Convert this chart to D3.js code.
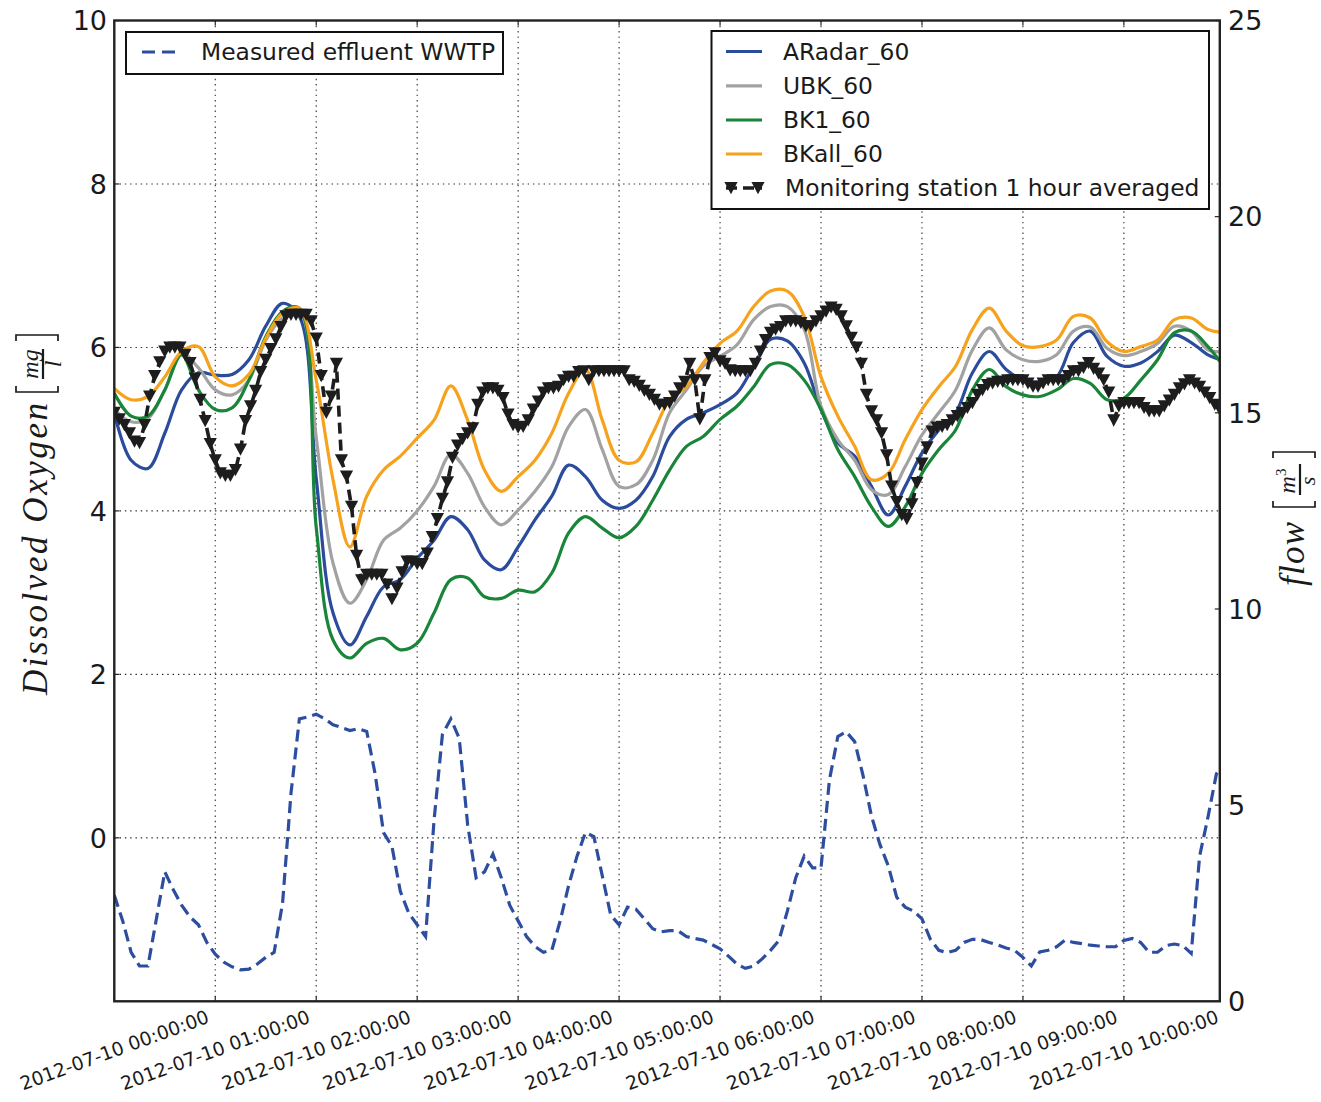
<!DOCTYPE html>
<html>
<head>
<meta charset="utf-8">
<script src="https://cdn.jsdelivr.net/npm/d3@7"></script>
<style>
  body { margin: 0; background: #fff; }
  svg { display: block; }
</style>
</head>
<body>
<svg id="chart" width="1321" height="1102"></svg>
<script>
// Dissolved oxygen (mg/l), modelled series every 10 minutes from 2012-07-10 00:00
const aradar = [
  5.2, 4.62, 4.52, 4.95, 5.48, 5.69,
  5.66, 5.67, 5.85, 6.26, 6.54, 6.38,
  4.4, 2.75, 2.36, 2.71, 3.07, 3.16,
  3.42, 3.64, 3.93, 3.77, 3.4, 3.28,
  3.56, 3.89, 4.18, 4.56, 4.42, 4.13,
  4.03, 4.13, 4.42, 4.91, 5.12, 5.2,
  5.3, 5.44, 5.77, 6.1, 6.08, 5.81,
  5.24, 4.83, 4.67, 4.3, 3.95, 4.3,
  4.71, 4.99, 5.2, 5.69, 5.95, 5.73,
  5.6, 5.58, 5.64, 6.06, 6.2, 5.89,
  5.77, 5.81, 5.95, 6.15, 6.06, 5.91,
  5.83
];
const ubk = [
  5.24, 5.09, 5.13, 5.48, 5.93, 5.75,
  5.48, 5.42, 5.6, 6.09, 6.36, 6.44,
  4.9, 3.36, 2.87, 3.16, 3.64, 3.79,
  4.0, 4.3, 4.69, 4.46, 4.05, 3.83,
  4.01, 4.24, 4.54, 5.03, 5.24, 4.75,
  4.3, 4.32, 4.62, 5.2, 5.48, 5.77,
  5.89, 6.03, 6.34, 6.5, 6.5, 6.22,
  5.28, 4.87, 4.62, 4.26, 4.2, 4.54,
  4.93, 5.2, 5.48, 5.97, 6.24, 5.97,
  5.85, 5.83, 5.91, 6.2, 6.25, 5.99,
  5.9, 5.95, 6.05, 6.26, 6.2, 5.97,
  5.95
];
const bk1 = [
  5.44, 5.16, 5.16, 5.48, 5.91, 5.48,
  5.24, 5.26, 5.6, 6.13, 6.44, 6.48,
  3.8, 2.42, 2.2, 2.38, 2.44, 2.3,
  2.38, 2.75, 3.16, 3.18, 2.95, 2.93,
  3.03, 3.01, 3.24, 3.73, 3.93, 3.79,
  3.67, 3.81, 4.13, 4.5, 4.79, 4.91,
  5.12, 5.28, 5.52, 5.79, 5.79, 5.6,
  5.24, 4.75, 4.42, 4.05, 3.81, 4.05,
  4.46, 4.75, 4.99, 5.48, 5.73, 5.52,
  5.42, 5.4, 5.48, 5.62, 5.56, 5.36,
  5.38, 5.6, 5.85, 6.18, 6.2, 6.01,
  5.75
];
const bkall = [
  5.5, 5.36, 5.4, 5.64, 5.95, 6.01,
  5.64, 5.53, 5.67, 6.11, 6.42, 6.48,
  5.6, 4.38, 3.56, 4.18, 4.5, 4.67,
  4.89, 5.11, 5.53, 5.11, 4.5, 4.24,
  4.42, 4.62, 4.95, 5.44, 5.73, 5.11,
  4.62, 4.6, 4.95, 5.36, 5.52, 5.81,
  6.05, 6.2, 6.5, 6.69, 6.69, 6.38,
  5.64, 5.16, 4.79, 4.38, 4.46, 4.87,
  5.24, 5.52, 5.77, 6.22, 6.48, 6.2,
  6.02, 6.01, 6.09, 6.38, 6.36, 6.07,
  5.95, 6.01, 6.09, 6.34, 6.36, 6.22,
  6.18
];

// Monitoring station, 1 hour moving average (mg/l), every 3 minutes
const monitoring = [
  5.2, 5.12, 5.05, 4.95, 4.85, 4.83, 5.05, 5.4, 5.65, 5.82, 5.95, 6.0, 6.0, 6.0, 5.91, 5.81, 5.62, 5.36, 5.1, 4.82,
  4.62, 4.46, 4.43, 4.43, 4.5, 4.75, 5.1, 5.28, 5.47, 5.7, 5.85, 5.98, 6.1, 6.25, 6.38, 6.4, 6.4, 6.4, 6.4, 6.32,
  6.11, 5.65, 5.2, 5.4, 5.8, 4.62, 4.42, 4.05, 3.45, 3.15, 3.22, 3.22, 3.22, 3.22, 3.1, 2.92, 3.05, 3.25, 3.38, 3.38,
  3.35, 3.35, 3.48, 3.68, 3.9, 4.15, 4.35, 4.65, 4.8, 4.88, 4.95, 5.01, 5.3, 5.45, 5.5, 5.5, 5.47, 5.38, 5.18, 5.05,
  5.02, 5.03, 5.11, 5.24, 5.34, 5.45, 5.5, 5.5, 5.52, 5.6, 5.64, 5.64, 5.7, 5.71, 5.6, 5.71, 5.71, 5.71, 5.71, 5.71,
  5.71, 5.71, 5.6, 5.58, 5.53, 5.47, 5.42, 5.36, 5.3, 5.3, 5.32, 5.4, 5.5, 5.58, 5.8, 5.6, 5.12, 5.6, 5.87, 5.93,
  5.83, 5.8, 5.72, 5.71, 5.71, 5.71, 5.71, 5.8, 5.95, 6.09, 6.18, 6.22, 6.25, 6.32, 6.32, 6.32, 6.3, 6.26, 6.26, 6.32,
  6.38, 6.44, 6.49, 6.46, 6.38, 6.26, 6.12, 6.0, 5.8, 5.42, 5.22, 5.11, 4.95, 4.68, 4.3, 4.11, 3.95, 3.9, 4.08, 4.34,
  4.58, 4.78, 4.97, 5.02, 5.03, 5.05, 5.11, 5.16, 5.2, 5.26, 5.32, 5.42, 5.48, 5.54, 5.56, 5.58, 5.58, 5.6, 5.6, 5.6,
  5.6, 5.56, 5.52, 5.52, 5.56, 5.6, 5.6, 5.6, 5.6, 5.65, 5.71, 5.71, 5.75, 5.81, 5.74, 5.68, 5.6, 5.45, 5.11, 5.28,
  5.32, 5.32, 5.32, 5.32, 5.26, 5.22, 5.22, 5.22, 5.28, 5.35, 5.42, 5.5, 5.55, 5.6, 5.56, 5.52, 5.45, 5.38, 5.3, 5.24
];

// Measured WWTP effluent flow (m3/s), every 5 minutes
const effluentFlow = [
  2.7, 2.05, 1.25, 0.9, 0.9, 2.1, 3.3, 2.85, 2.45, 2.15, 1.95, 1.5,
  1.2, 1.0, 0.88, 0.8, 0.82, 0.95, 1.12, 1.25, 2.5, 5.3, 7.2, 7.25,
  7.32, 7.2, 7.05, 6.98, 6.9, 6.95, 6.88, 5.8, 4.3, 3.95, 2.8, 2.25,
  1.95, 1.65, 4.6, 6.8, 7.2, 6.7, 4.5, 3.15, 3.3, 3.75, 3.15, 2.45,
  2.05, 1.65, 1.4, 1.25, 1.3, 2.05, 2.95, 3.7, 4.3, 4.2, 3.2, 2.2,
  1.95, 2.4, 2.35, 2.1, 1.85, 1.77, 1.8, 1.8, 1.65, 1.6, 1.56, 1.45,
  1.34, 1.15, 0.95, 0.84, 0.9, 1.08, 1.3, 1.55, 2.3, 3.15, 3.7, 3.4,
  3.4, 5.64, 6.75, 6.87, 6.62, 5.75, 4.72, 4.0, 3.45, 2.65, 2.4, 2.3,
  2.1, 1.58, 1.3, 1.24, 1.3, 1.5, 1.58, 1.57, 1.5, 1.44, 1.36, 1.3,
  1.12, 0.9, 1.26, 1.3, 1.39, 1.56, 1.5, 1.47, 1.43, 1.41, 1.39, 1.39,
  1.55, 1.6, 1.5, 1.25, 1.25, 1.42, 1.46, 1.42, 1.22, 3.7, 4.7, 5.8,
  6.1
];

const doTicks = [0, 2, 4, 6, 8, 10];
const flowTicks = [0, 5, 10, 15, 20, 25];

const seriesInfo = [
  { name: "ARadar_60", values: aradar, color: "#2b4c9c" },
  { name: "UBK_60",    values: ubk,    color: "#a2a2a2" },
  { name: "BK1_60",    values: bk1,    color: "#188538" },
  { name: "BKall_60",  values: bkall,  color: "#f6a21c" }
];

const flowColor = "#2d4e9f";
const stationColor = "#1d1d1d";
const inkColor = "#1a1a1a";
const sansFont = "'DejaVu Sans', sans-serif";
const serifFont = "'Liberation Serif', 'DejaVu Serif', serif";

const plot = { left: 114.3, right: 1219.8, top: 20.5, bottom: 1001.3 };
const t0 = new Date(2012, 6, 10, 0, 0, 0);
const tEnd = new Date(2012, 6, 10, 10, 57, 0);
const minute = 60000;
const timesEvery = (n, step) => d3.range(n).map(i => new Date(+t0 + i * step * minute));

const x = d3.scaleTime().domain([t0, tEnd]).range([plot.left, plot.right]);
const yDO = d3.scaleLinear().domain([-2, 10]).range([plot.bottom, plot.top]);
const yFlow = d3.scaleLinear().domain([0, 25]).range([plot.bottom, plot.top]);

const svg = d3.select("#chart");

svg.append("defs").append("clipPath").attr("id", "plot-clip")
  .append("rect")
  .attr("x", plot.left).attr("y", plot.top)
  .attr("width", plot.right - plot.left).attr("height", plot.bottom - plot.top);

// ---- grid ----
const hourTicks = d3.timeHour.range(t0, new Date(+tEnd + 1));
const grid = svg.append("g").attr("stroke", "#2a2a2a").attr("stroke-width", 1.1)
  .attr("stroke-dasharray", "1.4,3.9");
hourTicks.filter(d => x(d) > plot.left + 1).forEach(d => {
  grid.append("line").attr("x1", x(d)).attr("x2", x(d))
    .attr("y1", plot.top).attr("y2", plot.bottom);
});
doTicks.filter(v => v < 10).forEach(v => {
  grid.append("line").attr("x1", plot.left).attr("x2", plot.right)
    .attr("y1", yDO(v)).attr("y2", yDO(v));
});

// ---- data ----
const dataLayer = svg.append("g").attr("clip-path", "url(#plot-clip)");
const modelTimes = timesEvery(aradar.length, 10);

const modelLine = d3.line()
  .x((d, i) => x(modelTimes[i]))
  .y(d => yDO(d))
  .curve(d3.curveCatmullRom.alpha(0.5));

seriesInfo.forEach(s => {
  dataLayer.append("path")
    .attr("d", modelLine(s.values))
    .attr("fill", "none")
    .attr("stroke", s.color)
    .attr("stroke-width", 3.2)
    .attr("stroke-linejoin", "round");
});

const stationTimes = timesEvery(monitoring.length, 3);
const stationLine = d3.line()
  .x((d, i) => x(stationTimes[i]))
  .y(d => yDO(d));
dataLayer.append("path")
  .attr("d", stationLine(monitoring))
  .attr("fill", "none")
  .attr("stroke", stationColor)
  .attr("stroke-width", 3.6)
  .attr("stroke-dasharray", "11,6");

const triangleDown = "M-6.6,-6L6.6,-6L0,6.2Z";
dataLayer.append("g").selectAll("path")
  .data(monitoring)
  .join("path")
  .attr("d", triangleDown)
  .attr("transform", (d, i) => `translate(${x(stationTimes[i])},${yDO(d)})`)
  .attr("fill", stationColor);

const flowTimes = timesEvery(effluentFlow.length, 5);
const flowLine = d3.line()
  .x((d, i) => x(flowTimes[i]))
  .y(d => yFlow(d));
dataLayer.append("path")
  .attr("d", flowLine(effluentFlow))
  .attr("fill", "none")
  .attr("stroke", flowColor)
  .attr("stroke-width", 3.2)
  .attr("stroke-dasharray", "12,6");

// ---- ticks (inward) ----
const tickLen = 5;
const ticks = svg.append("g").attr("stroke", "#222").attr("stroke-width", 1.2);
hourTicks.forEach(d => {
  ticks.append("line").attr("x1", x(d)).attr("x2", x(d))
    .attr("y1", plot.bottom).attr("y2", plot.bottom - tickLen);
  ticks.append("line").attr("x1", x(d)).attr("x2", x(d))
    .attr("y1", plot.top).attr("y2", plot.top + tickLen);
});
doTicks.forEach(v => {
  ticks.append("line").attr("x1", plot.left).attr("x2", plot.left + tickLen)
    .attr("y1", yDO(v)).attr("y2", yDO(v));
});
flowTicks.forEach(v => {
  ticks.append("line").attr("x1", plot.right).attr("x2", plot.right - tickLen)
    .attr("y1", yFlow(v)).attr("y2", yFlow(v));
});

// ---- frame ----
svg.append("rect")
  .attr("x", plot.left).attr("y", plot.top)
  .attr("width", plot.right - plot.left).attr("height", plot.bottom - plot.top)
  .attr("fill", "none").attr("stroke", "#222").attr("stroke-width", 2.4);

// ---- tick labels ----
const fmt = d3.timeFormat("%Y-%m-%d %H:%M:%S");
svg.append("g").selectAll("text")
  .data(hourTicks)
  .join("text")
  .attr("transform", d => `translate(${x(d)},1050) rotate(-20)`)
  .attr("text-anchor", "middle")
  .attr("dy", "0.36em")
  .attr("font-family", sansFont)
  .attr("font-size", 18.8)
  .attr("fill", inkColor)
  .text(d => fmt(d));

svg.append("g").selectAll("text")
  .data(doTicks)
  .join("text")
  .attr("x", 107)
  .attr("y", d => yDO(d))
  .attr("dy", "0.36em")
  .attr("text-anchor", "end")
  .attr("font-family", sansFont)
  .attr("font-size", 27)
  .attr("fill", inkColor)
  .text(d => d);

svg.append("g").selectAll("text")
  .data(flowTicks)
  .join("text")
  .attr("x", 1228)
  .attr("y", d => yFlow(d))
  .attr("dy", "0.36em")
  .attr("text-anchor", "start")
  .attr("font-family", sansFont)
  .attr("font-size", 27)
  .attr("fill", inkColor)
  .text(d => d);

// ---- axis titles (math style) ----
function bracket(g, u, dir) {
  // dir = +1 for an opening bracket, -1 for a closing one
  g.append("path")
    .attr("d", `M${u + 6 * dir},-31 L${u},-31 L${u},11 L${u + 6 * dir},11`)
    .attr("fill", "none").attr("stroke", inkColor).attr("stroke-width", 1.7);
}

const yTitle = svg.append("g").attr("transform", "translate(47,512) rotate(-90)")
  .attr("fill", inkColor).attr("font-family", serifFont).attr("font-style", "italic");
yTitle.append("text").attr("x", -183).attr("y", 0).attr("font-size", 35)
  .attr("textLength", 292).attr("lengthAdjust", "spacing").text("Dissolved Oxygen");
bracket(yTitle, 120, 1);
yTitle.append("text").attr("x", 148).attr("y", -9).attr("font-size", 24)
  .attr("text-anchor", "middle").text("mg");
yTitle.append("line").attr("x1", 133).attr("x2", 163).attr("y1", -4).attr("y2", -4)
  .attr("stroke", inkColor).attr("stroke-width", 2.2);
yTitle.append("text").attr("x", 148).attr("y", 14).attr("font-size", 24)
  .attr("text-anchor", "middle").text("l");
bracket(yTitle, 177, -1);

const y2Title = svg.append("g").attr("transform", "translate(1304,512) rotate(-90)")
  .attr("fill", inkColor).attr("font-family", serifFont).attr("font-style", "italic");
y2Title.append("text").attr("x", -74).attr("y", 0).attr("font-size", 35)
  .attr("textLength", 64).attr("lengthAdjust", "spacing").text("flow");
bracket(y2Title, 5, 1);
const m3 = y2Title.append("text").attr("x", 31).attr("y", -9).attr("font-size", 24)
  .attr("text-anchor", "middle");
m3.append("tspan").text("m");
m3.append("tspan").attr("font-size", 15).attr("font-style", "normal").attr("dy", -9).text("3");
y2Title.append("line").attr("x1", 17).attr("x2", 48).attr("y1", -4).attr("y2", -4)
  .attr("stroke", inkColor).attr("stroke-width", 2.2);
y2Title.append("text").attr("x", 31).attr("y", 11).attr("font-size", 22)
  .attr("text-anchor", "middle").text("s");
bracket(y2Title, 60, -1);

// ---- legends ----
const legendFont = 23.4;
const leg1 = svg.append("g");
leg1.append("rect").attr("x", 126).attr("y", 32).attr("width", 377).attr("height", 42)
  .attr("fill", "#fff").attr("stroke", "#111").attr("stroke-width", 2);
leg1.append("line").attr("x1", 142).attr("x2", 176).attr("y1", 52).attr("y2", 52)
  .attr("stroke", flowColor).attr("stroke-width", 3.2).attr("stroke-dasharray", "13,7");
leg1.append("text").attr("x", 201).attr("y", 60).attr("font-family", sansFont)
  .attr("font-size", legendFont).attr("fill", inkColor).text("Measured effluent WWTP");

const leg2 = svg.append("g");
leg2.append("rect").attr("x", 711.5).attr("y", 31).attr("width", 497.5).attr("height", 178)
  .attr("fill", "#fff").attr("stroke", "#111").attr("stroke-width", 2);
const rowBase = [59.5, 93.8, 128, 162, 196];
seriesInfo.forEach((s, i) => {
  leg2.append("line").attr("x1", 726).attr("x2", 762)
    .attr("y1", rowBase[i] - 8).attr("y2", rowBase[i] - 8)
    .attr("stroke", s.color).attr("stroke-width", 3.2);
  leg2.append("text").attr("x", 783).attr("y", rowBase[i]).attr("font-family", sansFont)
    .attr("font-size", legendFont).attr("fill", inkColor).text(s.name);
});
const stRow = rowBase[4] - 8;
leg2.append("line").attr("x1", 726).attr("x2", 762).attr("y1", stRow).attr("y2", stRow)
  .attr("stroke", stationColor).attr("stroke-width", 3.6).attr("stroke-dasharray", "11,6");
[731, 758].forEach(px => {
  leg2.append("path").attr("d", triangleDown)
    .attr("transform", `translate(${px},${stRow})`).attr("fill", stationColor);
});
leg2.append("text").attr("x", 785).attr("y", rowBase[4]).attr("font-family", sansFont)
  .attr("font-size", legendFont).attr("fill", inkColor).text("Monitoring station 1 hour averaged");
</script>
</body>
</html>
